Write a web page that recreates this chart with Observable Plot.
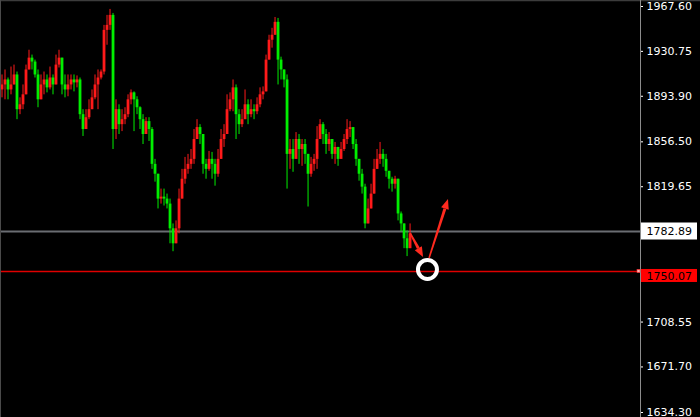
<!DOCTYPE html>
<html>
<head>
<meta charset="utf-8">
<script src="https://cdn.jsdelivr.net/npm/d3@7"></script>
<script src="https://cdn.jsdelivr.net/npm/@observablehq/plot@0.6"></script>
<style>
  html, body { margin: 0; padding: 0; background: #000; }
  #chart { width: 700px; height: 417px; overflow: hidden; }
</style>
</head>
<body>
<div id="chart"></div>
<script>
// Gold price bars (red = rise, green = fall), one bar per slot
const firstOpen = 1899.1;
const closePrice = [
  1903.2, 1907.3, 1899.1, 1903.2, 1911.4, 1882.9, 1886.9, 1895.1, 1915.5, 1925.2,
  1922.0, 1911.4, 1891.0, 1903.2, 1907.3, 1900.8, 1908.9, 1903.2, 1919.5, 1925.2,
  1903.2, 1899.1, 1903.2, 1907.3, 1904.9, 1907.3, 1878.8, 1866.6, 1876.3, 1882.9,
  1892.6, 1903.2, 1908.9, 1913.8, 1948.0, 1952.1, 1960.3, 1866.6, 1882.9, 1870.6,
  1874.7, 1878.8, 1891.0, 1896.7, 1891.0, 1884.5, 1874.7, 1862.5, 1873.1, 1866.6,
  1838.0, 1829.9, 1809.5, 1811.1, 1809.5, 1805.4, 1785.1, 1772.8, 1785.1, 1809.5,
  1825.8, 1833.9, 1838.0, 1842.1, 1858.4, 1868.2, 1862.5, 1838.0, 1833.9, 1842.1,
  1838.0, 1829.9, 1842.1, 1858.4, 1862.5, 1882.9, 1891.0, 1900.8, 1878.8, 1870.6,
  1874.7, 1886.9, 1878.8, 1882.9, 1881.2, 1886.9, 1895.1, 1897.5, 1923.6, 1939.9,
  1944.0, 1954.6, 1923.6, 1915.5, 1907.3, 1846.2, 1850.2, 1842.1, 1858.4, 1850.2,
  1854.3, 1846.2, 1829.9, 1838.0, 1842.1, 1858.4, 1870.6, 1862.5, 1854.3, 1858.4,
  1846.2, 1851.9, 1842.1, 1850.2, 1858.4, 1866.6, 1868.2, 1854.3, 1842.1, 1829.9,
  1819.3, 1789.1, 1801.4, 1813.6, 1833.9, 1842.1, 1846.2, 1842.1, 1832.3, 1825.8,
  1821.7, 1825.8, 1797.3, 1789.1, 1776.9, 1768.8, 1781.0
];
const highPrice = [
  1911.4, 1915.5, 1908.9, 1917.9, 1919.5, 1913.8, 1892.6, 1903.2, 1919.5, 1931.7,
  1927.7, 1923.6, 1915.5, 1911.4, 1913.8, 1911.4, 1917.9, 1911.4, 1927.7, 1931.7,
  1923.6, 1911.4, 1911.4, 1911.4, 1911.4, 1910.6, 1908.9, 1882.9, 1882.9, 1891.0,
  1899.1, 1911.4, 1915.5, 1915.5, 1952.1, 1960.3, 1965.2, 1961.9, 1891.0, 1886.9,
  1882.9, 1884.5, 1895.1, 1899.1, 1897.5, 1893.5, 1885.3, 1878.8, 1876.3, 1876.3,
  1868.2, 1842.1, 1829.9, 1817.7, 1817.7, 1813.6, 1809.5, 1789.1, 1791.6, 1817.7,
  1833.9, 1843.7, 1846.2, 1850.2, 1866.6, 1874.7, 1870.6, 1862.5, 1842.1, 1848.6,
  1847.8, 1842.1, 1850.2, 1866.6, 1870.6, 1895.1, 1896.7, 1907.3, 1903.2, 1882.9,
  1882.9, 1899.1, 1891.0, 1891.0, 1886.9, 1892.6, 1900.8, 1901.6, 1927.7, 1944.0,
  1949.7, 1958.6, 1957.8, 1926.0, 1915.5, 1911.4, 1858.4, 1858.4, 1864.1, 1862.5,
  1858.4, 1858.4, 1846.2, 1843.7, 1846.2, 1869.0, 1874.7, 1872.3, 1866.6, 1864.1,
  1858.4, 1856.0, 1851.9, 1856.0, 1862.5, 1874.7, 1873.1, 1866.6, 1858.4, 1842.1,
  1833.9, 1821.7, 1809.5, 1821.7, 1842.1, 1850.2, 1856.0, 1850.2, 1846.2, 1832.3,
  1827.4, 1828.2, 1825.8, 1798.9, 1787.5, 1783.4, 1789.1
];
const lowPrice = [
  1892.6, 1891.0, 1891.0, 1895.1, 1905.7, 1874.7, 1878.8, 1882.9, 1896.7, 1917.1,
  1915.5, 1908.9, 1884.5, 1891.0, 1895.1, 1896.7, 1899.1, 1895.1, 1913.8, 1917.1,
  1895.1, 1892.6, 1893.5, 1899.1, 1897.5, 1900.8, 1874.7, 1860.9, 1868.2, 1874.7,
  1882.9, 1891.0, 1882.9, 1907.3, 1911.4, 1935.8, 1948.0, 1850.2, 1858.4, 1862.5,
  1864.9, 1870.6, 1876.3, 1886.9, 1864.9, 1878.8, 1866.6, 1854.3, 1862.5, 1856.8,
  1833.9, 1823.4, 1801.4, 1805.4, 1803.8, 1801.4, 1772.8, 1766.3, 1772.8, 1781.0,
  1813.6, 1821.7, 1829.9, 1833.9, 1838.0, 1858.4, 1854.3, 1829.9, 1825.8, 1832.3,
  1825.8, 1820.1, 1827.4, 1846.2, 1851.9, 1870.6, 1881.2, 1881.2, 1858.4, 1862.5,
  1868.2, 1874.7, 1870.6, 1876.3, 1874.7, 1878.8, 1884.5, 1891.0, 1903.2, 1923.6,
  1933.4, 1944.0, 1903.2, 1907.3, 1900.8, 1817.7, 1833.9, 1831.5, 1842.1, 1838.0,
  1836.4, 1838.0, 1803.0, 1827.4, 1832.3, 1833.9, 1862.5, 1854.3, 1846.2, 1848.6,
  1842.1, 1838.0, 1836.4, 1842.1, 1848.6, 1854.3, 1860.0, 1850.2, 1836.4, 1824.2,
  1813.6, 1785.1, 1793.2, 1803.0, 1817.7, 1833.9, 1838.0, 1835.6, 1827.4, 1817.7,
  1815.2, 1817.7, 1791.6, 1782.6, 1768.8, 1762.3, 1772.8
];

// Price axis
const yTicks = [1967.60, 1930.75, 1893.90, 1856.50, 1819.65, 1708.55, 1671.70, 1634.30];
const yDomain = [1634.30, 1967.60];
const xDomain = [-0.5, 212.8];

// Horizontal levels with their price tags
const supportLevel = 1782.89;
const targetLevel = 1750.07;

// Marker ring and the two arrows (dip to the target, then rebound)
const ring = [{slot: 141.8, price: 1751.7}];
const arrowPaths = [
  {x1: 136.2, y1: 1781.2, x2: 140.5, y2: 1761.5},
  {x1: 142.5, y1: 1760.7, x2: 148.8, y2: 1809.1}
];

const bars = closePrice.map((c, i) => {
  const o = i === 0 ? firstOpen : closePrice[i - 1];
  return {
    slot: i,
    open: o,
    close: c,
    high: Math.max(highPrice[i], o, c),
    low: Math.min(lowPrice[i], o, c),
    up: c >= o
  };
});

const barColor = d => d.up ? "#ff1a1a" : "#00ee00";

function overlay(index, scales, values, dimensions) {
  const {width, height, marginRight} = dimensions;
  const ax = width - marginRight;
  const g = d3.create("svg:g");

  // chart window edges and the price-scale separator
  g.append("line").attr("x1", 0).attr("x2", width).attr("y1", 0.5).attr("y2", 0.5)
    .attr("stroke", "#3c3c3c").attr("stroke-width", 1.5);
  g.append("line").attr("x1", 0.5).attr("x2", 0.5).attr("y1", 0).attr("y2", height)
    .attr("stroke", "#4a4a4a");
  g.append("line").attr("x1", ax + 0.5).attr("x2", ax + 0.5).attr("y1", 0).attr("y2", height)
    .attr("stroke", "#8c8c8c");

  // price tags
  const tags = [
    {price: supportLevel, fill: "#ffffff", top: -8.5, h: 17, mid: 0.5},
    {price: targetLevel, fill: "#ff0000", top: -2, h: 13, mid: 5}
  ];
  for (const t of tags) {
    const y = scales.y(t.price);
    g.append("rect").attr("x", ax + 1).attr("y", y + t.top).attr("width", 56).attr("height", t.h)
      .attr("fill", t.fill);
    g.append("text").attr("x", ax + 6.5).attr("y", y + t.mid).attr("dy", "0.35em")
      .attr("text-anchor", "start")
      .attr("fill", "#000").attr("font-family", "DejaVu Sans").attr("font-size", 11)
      .text(t.price.toFixed(2));
  }
  // small handle where the target level meets the price scale
  const yt = scales.y(targetLevel);
  g.append("rect").attr("x", ax - 3).attr("y", yt - 1.5).attr("width", 3).attr("height", 3)
    .attr("fill", "#ffb0b0").attr("stroke", "#ff3030").attr("stroke-width", 0.6);

  // arrows with filled heads
  for (const a of arrowPaths) {
    const x1 = scales.x(a.x1), y1 = scales.y(a.y1);
    const x2 = scales.x(a.x2), y2 = scales.y(a.y2);
    const dx = x2 - x1, dy = y2 - y1, len = Math.hypot(dx, dy);
    const ux = dx / len, uy = dy / len;
    const headLen = 10, headHalf = 4;
    const bx = x2 - ux * headLen, by = y2 - uy * headLen;
    g.append("path")
      .attr("d", `M${x1 - uy * 0.8},${y1 + ux * 0.8}L${bx - uy * 1.5},${by + ux * 1.5}L${bx + uy * 1.5},${by - ux * 1.5}L${x1 + uy * 0.8},${y1 - ux * 0.8}Z`)
      .attr("fill", "#ff2a1f");
    g.append("path")
      .attr("d", `M${x2},${y2}L${bx - uy * headHalf},${by + ux * headHalf}L${bx + uy * headHalf},${by - ux * headHalf}Z`)
      .attr("fill", "#ff2a1f");
  }
  return g.node();
}

const chart = Plot.plot({
  width: 700,
  height: 417,
  marginLeft: 0,
  marginRight: 60,
  marginTop: 6,
  marginBottom: 5,
  style: {
    background: "#000",
    color: "#ffffff",
    fontFamily: "DejaVu Sans",
    fontSize: "11px",
    overflow: "visible"
  },
  x: {domain: xDomain, axis: null},
  y: {
    domain: yDomain,
    axis: "right",
    ticks: yTicks,
    tickFormat: d => d.toFixed(2),
    tickSize: 2,
    tickPadding: 4,
    label: null
  },
  marks: [
    Plot.ruleY([supportLevel], {stroke: "#6a6d72", strokeWidth: 2}),
    Plot.ruleY([targetLevel], {stroke: "#e00000", strokeWidth: 1.3}),
    Plot.ruleX(bars, {x: "slot", y1: "low", y2: "high", stroke: barColor, strokeWidth: 1}),
    Plot.ruleX(bars, {x: "slot", y1: "open", y2: "close", stroke: barColor, strokeWidth: 2.8}),
    Plot.dot(ring, {x: "slot", y: "price", r: 9.5, stroke: "#ffffff", strokeWidth: 4, fill: "none"}),
    overlay
  ]
});

document.getElementById("chart").appendChild(chart);
</script>
</body>
</html>
